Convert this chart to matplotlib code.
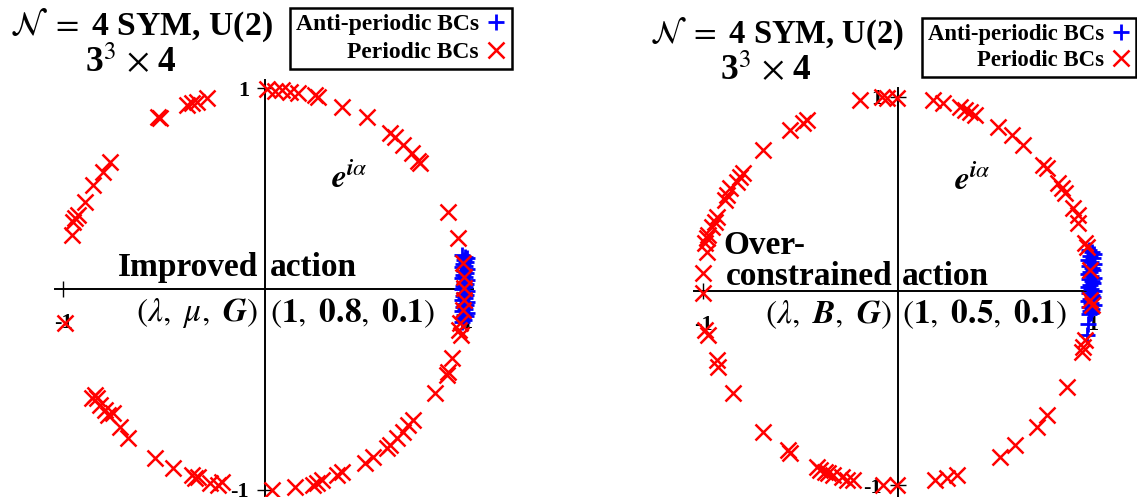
import numpy as np
import matplotlib
matplotlib.use("Agg")
import matplotlib.pyplot as plt
from matplotlib.font_manager import FontProperties

plt.rcParams['mathtext.fontset'] = 'stix'
plt.rcParams['font.family'] = ['Liberation Serif', 'DejaVu Serif']
plt.rcParams['axes.unicode_minus'] = False

W, H = 1137, 497

# ---- data: eigenvalue positions e^{i alpha} ----
# left panel: improved action (lambda, mu, G) = (1, 0.8, 0.1)
left_apbc_x = [0.975, 0.99, 1.0, 0.985, 0.995, 0.98, 0.99, 0.975, 1.0, 0.985, 0.995, 0.98, 0.99,
               0.975, 1.0, 0.985, 0.995, 0.98, 0.99, 0.975, 1.0, 0.985, 0.995, 0.98, 0.99, 0.975,
               1.0, 0.985, 0.995, 0.98, 0.99, 0.975, 1.0, 0.985, 0.995, 0.98, 0.985, 0.975]
left_apbc_y = [0.17, 0.161, 0.152, 0.143, 0.134, 0.125, 0.116, 0.107, 0.098, 0.089, 0.08, 0.071, 0.062,
               0.053, 0.044, 0.035, 0.026, 0.017, 0.008, -0.001, -0.01, -0.019, -0.028, -0.037, -0.046, -0.055,
               -0.064, -0.073, -0.082, -0.091, -0.1, -0.109, -0.118, -0.127, -0.136, -0.145, -0.154, -0.165]
left_pbc_x = [0.01, 0.05, 0.084, 0.124, 0.163, 0.248, 0.262, 0.381, 0.505, 0.619, 0.644, 0.683, 0.728, 0.767, 0.757, 0.906, 0.955,
              -0.287, -0.337, -0.361, -0.386, -0.52, -0.53, -0.767, -0.802, -0.851, -0.891, -0.926, -0.941, -0.95, -0.955,
              -0.99,
              0.98, 0.985, 0.985, 0.985, 0.98, 0.965, 0.96, 0.97,
              0.926, 0.906, 0.901, 0.842, 0.733, 0.708, 0.683, 0.653, 0.619, 0.604, 0.535, 0.495, 0.381, 0.356, 0.282,
              0.257, 0.238, 0.149, 0.035,
              -0.842, -0.856, -0.832, -0.817, -0.792, -0.777, -0.752, -0.718, -0.678, -0.545, -0.455, -0.361, -0.347,
              -0.332, -0.272, -0.233, -0.213]
left_pbc_y = [0.995, 0.985, 0.99, 0.98, 0.975, 0.965, 0.955, 0.905, 0.856, 0.776, 0.756, 0.716, 0.677, 0.627, 0.637, 0.383, 0.254,
              0.95, 0.93, 0.925, 0.915, 0.85, 0.856, 0.632, 0.582, 0.517, 0.433, 0.368, 0.353, 0.333, 0.269,
              -0.17,
              0.129, 0.06, 0.005, -0.055, -0.104, -0.169, -0.204, -0.229,
              -0.343, -0.413, -0.428, -0.517, -0.652, -0.677, -0.711, -0.741, -0.776, -0.791, -0.836, -0.866, -0.91, -0.925, -0.95,
              -0.965, -0.975, -0.985, -1.0,
              -0.527, -0.542, -0.542, -0.577, -0.602, -0.627, -0.617, -0.687, -0.741, -0.841, -0.891, -0.925, -0.94,
              -0.935, -0.965, -0.975, -0.96]

# right panel: over-constrained action (lambda, B, G) = (1, 0.5, 0.1)
right_apbc_x = [0.98, 0.995, 1.005, 0.985, 1.0, 0.975, 0.99, 1.005, 0.98, 0.995, 1.0, 0.985, 0.975,
                0.99, 1.005, 0.98, 0.995, 1.0, 0.985, 0.975, 0.99, 1.005, 0.98, 0.995, 1.0, 0.985,
                0.975, 0.99, 1.005, 0.98, 0.995, 0.985, 0.99, 0.98, 0.975, 0.97]
right_apbc_y = [0.21, 0.2, 0.19, 0.18, 0.17, 0.16, 0.15, 0.14, 0.13, 0.12, 0.11, 0.1, 0.09,
                0.08, 0.07, 0.06, 0.05, 0.04, 0.03, 0.02, 0.01, 0.0, -0.01, -0.02, -0.03, -0.04,
                -0.05, -0.06, -0.07, -0.08, -0.09, -0.1, -0.11, -0.12, -0.17, -0.225]
right_pbc_x = [-0.195, -0.082, -0.056, -0.005, 0.179, 0.231, 0.318, 0.344, 0.369, 0.395, 0.513, 0.585, 0.641,
               0.744, 0.764, 0.821, 0.841, 0.856, 0.897, 0.923, 0.923, 0.959, 0.969, 0.985, 0.985, 0.995,
               0.959, 0.949, 0.944, 0.867, 0.764, 0.713, 0.6, 0.523, 0.303, 0.251, 0.19,
               -0.005, -0.077, -0.231, -0.262, -0.287, -0.333, -0.359, -0.374, -0.4, -0.415, -0.554, -0.564, -0.692,
               -0.846, -0.923, -0.928, -0.974, -0.99, -1.0, -1.0, -0.979, -0.99, -0.979, -0.974, -0.954, -0.938,
               -0.928, -0.887, -0.877, -0.862, -0.826, -0.81, -0.795, -0.692, -0.554, -0.487, -0.467]
right_pbc_y = [0.985, 1.0, 0.995, 0.995, 0.985, 0.969, 0.948, 0.933, 0.923, 0.907, 0.845, 0.804, 0.753,
               0.649, 0.634, 0.557, 0.531, 0.505, 0.428, 0.392, 0.351, 0.247, 0.227, 0.108, -0.046, -0.072,
               -0.253, -0.289, -0.314, -0.495, -0.639, -0.701, -0.794, -0.856, -0.948, -0.964, -0.974,
               -1.0, -1.0, -0.974, -0.974, -0.959, -0.948, -0.938, -0.933, -0.923, -0.907, -0.835, -0.82, -0.727,
               -0.526, -0.392, -0.356, -0.227, -0.201, -0.01, 0.093, 0.201, 0.247, 0.273, 0.289, 0.33, 0.356,
               0.381, 0.469, 0.495, 0.531, 0.562, 0.588, 0.608, 0.727, 0.83, 0.866, 0.881]

serif_b = dict(family='Liberation Serif', fontweight='bold')
fig = plt.figure(figsize=(W / 100, H / 100), dpi=100)


def make_panel(rect_px, xlim, ylim):
    l, b, w, h = rect_px
    ax = fig.add_axes([l / W, b / H, w / W, h / H])
    ax.set_xlim(*xlim)
    ax.set_ylim(*ylim)
    for s in ['top', 'right']:
        ax.spines[s].set_visible(False)
    for s in ['left', 'bottom']:
        ax.spines[s].set_position(('data', 0))
        ax.spines[s].set_linewidth(1.4)
    ax.set_xticks([-1, 1])
    ax.set_yticks([-1, 1])
    ax.set_xticklabels(['-1', '1'])
    ax.set_yticklabels(['-1', '1'])
    ax.tick_params(axis='both', direction='inout', length=11, width=1.0, labelsize=16)
    ax.tick_params(axis='x', pad=12)
    ax.tick_params(axis='y', pad=6)
    for lab in ax.get_xticklabels() + ax.get_yticklabels():
        lab.set_fontweight('bold')
        lab.set_family('Liberation Serif')
    ax.patch.set_visible(False)
    return ax


def draw_points(ax, ax_x, ax_y, px_x, px_y):
    hb, = ax.plot(ax_x, ax_y, linestyle='none', marker='+', color='#0000ff',
                  markersize=11, markeredgewidth=2.0, clip_on=False, zorder=3)
    hr, = ax.plot(px_x, px_y, linestyle='none', marker='x', color='#ff0000',
                  markersize=12, markeredgewidth=1.8, clip_on=False, zorder=4)
    return hb, hr


def add_legend(hb, hr, anchor, size):
    leg = fig.legend([hb, hr], ['Anti-periodic BCs', 'Periodic BCs'], loc='upper right',
                     bbox_to_anchor=anchor, markerfirst=False,
                     prop=FontProperties(family='Liberation Serif', weight='bold', size=size),
                     frameon=True, fancybox=False, edgecolor='black', framealpha=1,
                     borderaxespad=0, borderpad=0.25, handlelength=0.85, handletextpad=0.3,
                     labelspacing=0.25)
    leg.get_frame().set_linewidth(1.8)


title = r'$\mathcal{N}\ =\ $4 SYM, U(2)'
lattice = r'3$^3$ $\times$ 4'

# ---- left panel ----
axL = make_panel((55, 0, 418, 417), (-1.04, 1.03), (-1.035, 1.04))
hb, hr = draw_points(axL, left_apbc_x, left_apbc_y, left_pbc_x, left_pbc_y)
axL.text(0.42, 0.55, r'$\boldsymbol{e}^{\boldsymbol{i}\alpha}$', fontsize=24, ha='center', va='center')
axL.text(-0.035, 0.065, 'Improved', fontsize=24, ha='right', va='baseline', **serif_b)
axL.text(0.025, 0.065, 'action', fontsize=24, ha='left', va='baseline', **serif_b)
axL.text(-0.035, -0.12, r'$(\lambda,\ \mu,\ \boldsymbol{G})$', fontsize=24, ha='right', va='center')
axL.text(0.025, -0.12, r'$(\mathbf{1},\ \mathbf{0.8},\ \mathbf{0.1})$', fontsize=24, ha='left', va='center')
fig.text(10 / W, 1 - 25 / H, title, fontsize=24.3, ha='left', va='center', **serif_b)
fig.text(131 / W, 1 - 62 / H, lattice, fontsize=25.5, ha='center', va='center', **serif_b)
add_legend(hb, hr, (512 / W, 1 - 8 / H), 17)

# ---- right panel ----
axR = make_panel((694, 0, 406, 409), (-1.046, 1.036), (-1.06, 1.046))
hb, hr = draw_points(axR, right_apbc_x, right_apbc_y, right_pbc_x, right_pbc_y)
axR.text(0.38, 0.567, r'$\boldsymbol{e}^{\boldsymbol{i}\alpha}$', fontsize=24, ha='center', va='center')
axR.text(-0.897, 0.19, 'Over-', fontsize=24, ha='left', va='baseline', **serif_b)
axR.text(-0.026, 0.03, 'constrained', fontsize=24, ha='right', va='baseline', **serif_b)
axR.text(0.02, 0.03, 'action', fontsize=24, ha='left', va='baseline', **serif_b)
axR.text(-0.03, -0.12, r'$(\lambda,\ \boldsymbol{B},\ \boldsymbol{G})$', fontsize=24, ha='right', va='center')
axR.text(0.02, -0.12, r'$(\mathbf{1},\ \mathbf{0.5},\ \mathbf{0.1})$', fontsize=24, ha='left', va='center')
fig.text(650 / W, 1 - 34 / H, title, fontsize=23.5, ha='left', va='center', **serif_b)
fig.text(766 / W, 1 - 71 / H, lattice, fontsize=25.5, ha='center', va='center', **serif_b)
add_legend(hb, hr, (1136 / W, 1 - 18 / H), 16.4)

fig.savefig('out.png', dpi=100)
